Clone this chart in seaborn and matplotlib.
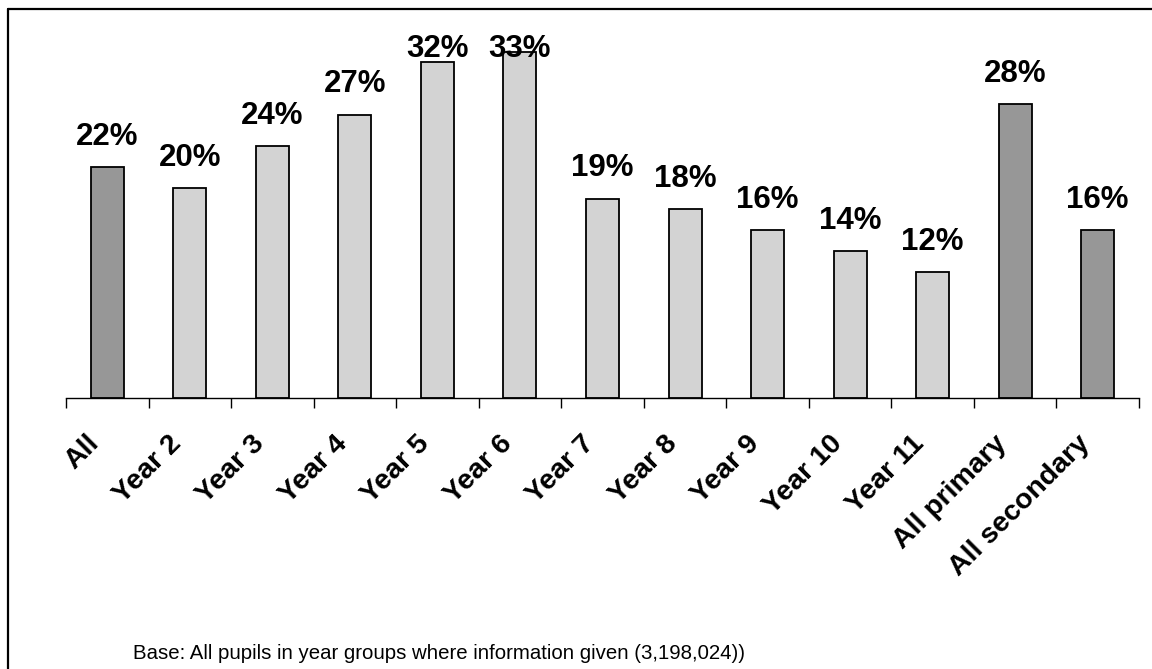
import pandas as pd
import seaborn as sns
import matplotlib.pyplot as plt
from matplotlib.lines import Line2D
from matplotlib.transforms import ScaledTranslation

# Datos
categories = ['All', 'Year 2', 'Year 3', 'Year 4', 'Year 5', 'Year 6', 'Year 7',
              'Year 8', 'Year 9', 'Year 10', 'Year 11', 'All primary', 'All secondary']
values = [22, 20, 24, 27, 32, 33, 19, 18, 16, 14, 12, 28, 16]
labels = [f"{v}%" for v in values]
totals = ['All', 'All primary', 'All secondary']
footnote = "Base: All pupils in year groups where information given (3,198,024))"

df = pd.DataFrame({'cat': categories, 'val': values})
palette = {c: ('#979797' if c in totals else '#d3d3d3') for c in categories}

sns.set_style('white')
plt.rcParams['font.family'] = ['Liberation Sans', 'DejaVu Sans']
plt.rcParams['text.color'] = 'black'

W, H = 1152, 669
fig = plt.figure(figsize=(W / 100, H / 100), dpi=100)
ax = fig.add_axes([66 / W, (H - 398) / H, 1073 / W, 364 / H])

sns.barplot(data=df, x='cat', y='val', hue='cat', palette=palette, legend=False,
            width=0.4, edgecolor='black', linewidth=1.3, saturation=1, ax=ax)

ymax = 364 / 10.5
ax.set_ylim(0, ymax)
ax.set_xlim(-0.5, len(categories) - 0.5)

# etiquetas de valor; como en Excel, no salen del área del gráfico
for i, (v, lab) in enumerate(zip(values, labels)):
    y = min(v + 2.1, ymax - 2.2)
    ax.text(i, y, lab, ha='center', va='baseline', fontsize=22.5,
            fontweight='bold', color='black', clip_on=False)

ax.set_xlabel('')
ax.set_ylabel('')
ax.set_yticks([])

ax.set_xticks(range(len(categories)))
ax.set_xticklabels(categories, rotation=45, ha='right', va='center',
                   rotation_mode='anchor', fontsize=20.5, fontweight='bold',
                   color='black')
ax.tick_params(axis='x', which='major', length=0, pad=30)
shift = ScaledTranslation(-12 / 100, 0, fig.dpi_scale_trans)
for t in ax.get_xticklabels():
    t.set_transform(t.get_transform() + shift)

ax.set_xticks([i - 0.5 for i in range(len(categories) + 1)], minor=True)
ax.tick_params(axis='x', which='minor', bottom=True, length=7, width=1,
               direction='out', color='black')

for s in ['left', 'top', 'right']:
    ax.spines[s].set_visible(False)
ax.spines['bottom'].set_color('black')
ax.spines['bottom'].set_linewidth(1)

fig.text(133 / W, 1 - 659 / H, footnote, fontsize=14.7, va='baseline', ha='left',
         color='black')

# marco (solo se ven los lados superior e izquierdo)
fig.add_artist(Line2D([8 / W, 1], [1 - 9 / H, 1 - 9 / H], transform=fig.transFigure,
                      color='black', linewidth=1.6))
fig.add_artist(Line2D([8 / W, 8 / W], [0, 1 - 9 / H], transform=fig.transFigure,
                      color='black', linewidth=1.6))

fig.savefig('out.png', dpi=100)
